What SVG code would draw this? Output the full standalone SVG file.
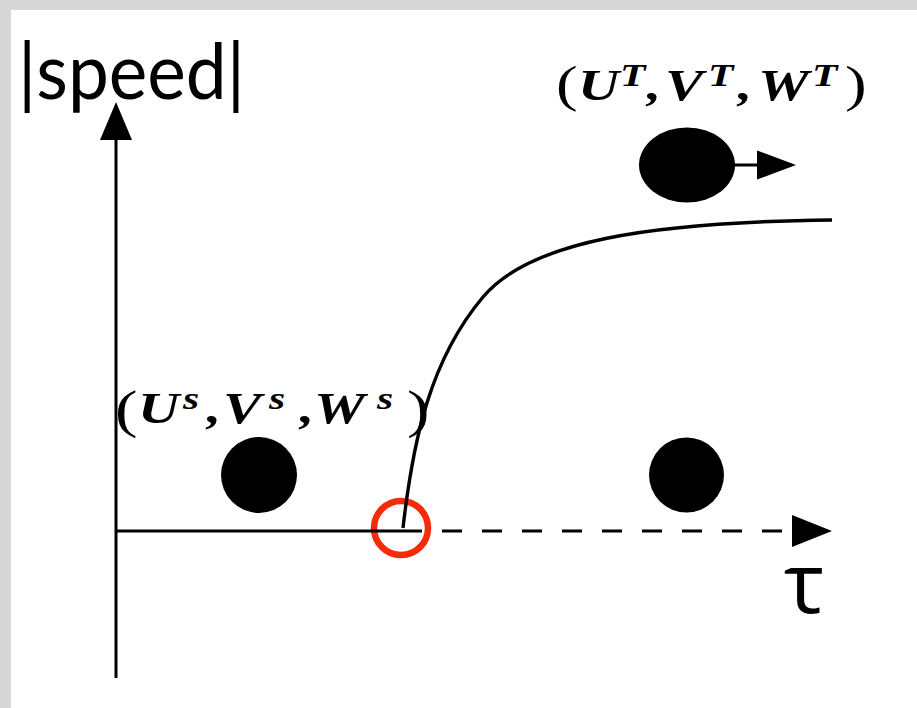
<svg xmlns="http://www.w3.org/2000/svg" width="917" height="708" viewBox="0 0 917 708">
  <style>
    .ax { stroke: #000; stroke-width: 3; fill: none; }
    .curve { stroke: #000; stroke-width: 3.4; fill: none; }
    .head { fill: #000; }
    .dot { fill: #000; }
    .math { font-family: "Liberation Serif", "DejaVu Serif", serif; fill: #000; }
    .bi { font-weight: bold; font-style: italic; }
    .sup { font-weight: bold; font-style: italic; font-size: 32px; }
    .sans { font-family: "Lato", "Open Sans", "DejaVu Sans", sans-serif; fill: #000; }
  </style>
  <rect x="0" y="0" width="917" height="708" fill="#d6d6d6"/>
  <rect x="11" y="10" width="906" height="698" fill="#ffffff"/>

  <g id="marker-circle">
    <circle cx="401" cy="528" r="27" fill="none" stroke="#f42a0b" stroke-width="6.5"/>
  </g>

  <g id="connectors">
    <line class="ax" x1="116" y1="136" x2="116" y2="678"/>
    <polygon class="head" points="116,102 100,140 132,140"/>
    <line class="ax" x1="116" y1="531" x2="402" y2="531"/>
    <line class="ax" x1="402" y1="531" x2="792" y2="531" stroke-dasharray="20 20"/>
    <polygon class="head" points="832,531 792,515 792,547"/>
    <path class="curve" d="M403,528 C413,440 430,360 483,297 C530,241 650,222 832,220"/>
    <line class="ax" x1="730" y1="165" x2="758" y2="165"/>
    <polygon class="head" points="796,165 757,150.5 757,179.5"/>
  </g>

  <g id="node-start">
    <circle class="dot" cx="259" cy="475" r="38"/>
  </g>
  <g id="node-end">
    <circle class="dot" cx="686.5" cy="475" r="37.5"/>
  </g>
  <g id="node-moving">
    <ellipse class="dot" cx="687" cy="165" rx="48" ry="37.5"/>
  </g>

  <g id="label-speed">
    <text class="sans" x="18" y="99" font-size="78" textLength="227" lengthAdjust="spacingAndGlyphs">|speed|</text>
  </g>
  <g id="label-tau">
    <text x="784" y="613" font-family="Open Sans, DejaVu Sans, sans-serif" font-size="85" fill="#000">τ</text>
  </g>

  <g id="label-target">
    <text class="math" font-size="44" transform="scale(1.3 1)"><tspan x="427.7" y="101" font-size="50">(</tspan><tspan class="bi" x="444.6" y="100">U</tspan><tspan class="sup" x="476.9" y="86">T</tspan><tspan class="bi" x="497.7" y="100">,</tspan><tspan class="bi" x="511.5" y="100">V</tspan><tspan class="sup" x="544.6" y="86">T</tspan><tspan class="bi" x="567.7" y="100">,</tspan><tspan class="bi" x="583.1" y="100">W</tspan><tspan class="sup" x="624.6" y="86">T</tspan><tspan x="650" y="101" font-size="50">)</tspan></text>
  </g>

  <g id="label-source">
    <text class="math" font-size="44" transform="scale(1.3 1)"><tspan x="88.5" y="427" font-size="52">(</tspan><tspan class="bi" x="106.2" y="423">U</tspan><tspan class="sup" x="140.8" y="409">s</tspan><tspan class="bi" x="159.2" y="423">,</tspan><tspan class="bi" x="171.5" y="423">V</tspan><tspan class="sup" x="207" y="409">s</tspan><tspan class="bi" x="230.8" y="423">,</tspan><tspan class="bi" x="241.5" y="423">W</tspan><tspan class="sup" x="290" y="409">s</tspan><tspan x="313.1" y="427" font-size="52">)</tspan></text>
  </g>
</svg>
